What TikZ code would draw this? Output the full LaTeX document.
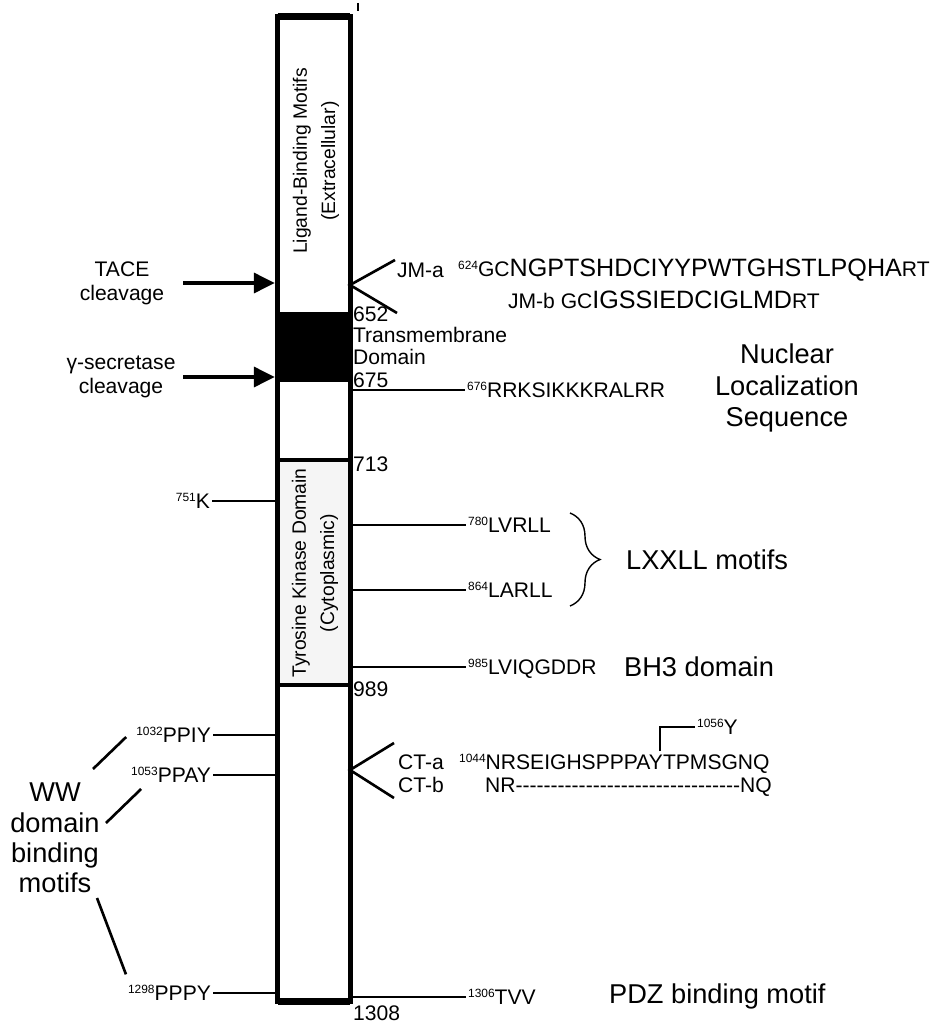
\documentclass[tikz,border=0pt]{standalone}
\usepackage{fontspec}
\setmainfont{Liberation Sans}
\usepackage{tikz}
\usetikzlibrary{arrows.meta,decorations.pathreplacing}

\newcommand{\resno}[1]{\raisebox{4pt}{\fontsize{6.8}{7}\selectfont #1}}
\newcommand{\seqbig}{\fontsize{14.3}{16}\selectfont}
\newcommand{\dashrun}[1]{\foreach \k in {1,...,#1}{-{}}}

\tikzset{
  lbl/.style={font=\fontsize{12}{13.5}\selectfont, inner sep=1pt},
  seq/.style={font=\fontsize{12}{14}\selectfont, inner sep=1pt, text height=8.6pt, text depth=0pt},
  big/.style={font=\fontsize{15.5}{18}\selectfont, inner sep=1pt, align=center},
  lead/.style={line width=1.5pt},
  cut/.style={line width=2.8pt, -{Triangle[length=12pt,width=11pt]}},
  side/.style={line width=3pt},
  rim/.style={line width=4pt}
}

\begin{document}
\begin{tikzpicture}[x=0.02cm,y=-0.02cm]
\useasboundingbox (0,0) rectangle (944,1024);

% the receptor bar
\node[minimum width=1.44cm,minimum height=19.68cm,inner sep=0] (bar) at (314,509){};
\fill[black!4] (278,460) rectangle (350,685);
\fill (278,312) rectangle (350,382);
\draw[side] (bar.north west) rectangle (bar.south east);
\draw[rim] (bar.north west) -- (bar.north east);
\draw[rim] (bar.south west) -- (bar.south east);
\draw[line width=2.8pt] (278,460) -- (350,460);
\draw[line width=2.8pt] (278,685) -- (350,685);
\draw[line width=0.8pt] (358,3) -- (358,11);

\node[rotate=90,align=center,font=\fontsize{11}{16}\selectfont] (ecd) at (316,161){Ligand-Binding Motifs\\(Extracellular)};
\node[rotate=90,align=center,font=\fontsize{11}{16}\selectfont] (tkd) at (315,573){Tyrosine Kinase Domain\\(Cytoplasmic)};

% cleavage sites
\coordinate (cutstart) at (183,0);
\node[lbl,align=center,font=\fontsize{12}{13.5}\selectfont] (tace) at (122,283){TACE\\cleavage};
\node[lbl,align=center,font=\fontsize{12}{13.5}\selectfont] (gsec) at (121,377){γ-secretase\\cleavage};
\draw[cut] (tace.east -| cutstart) -- ([xshift=-1.5pt]tace.east -| bar.west);
\draw[cut] (gsec.east -| cutstart) -- ([xshift=-1.5pt]gsec.east -| bar.west);

% juxtamembrane isoforms
\coordinate (jmv) at (350,285);
\coordinate (jmhi) at (395,260);
\coordinate (jmlo) at (397,313);
\draw[lead] (jmhi) -- (jmv) -- (jmlo);
\node[lbl,anchor=west] (jma) at (395,270){JM-a};
\node[lbl,anchor=west] (jmaseq) at (456,270){\resno{624}GC{\seqbig NGPTSHDCIYYPWTGHSTLPQHA}RT};
\node[lbl,anchor=west] (jmbseq) at (506,300){JM-b GC{\seqbig IGSSIEDCIGLMD}RT};

% residue numbers
\node[lbl,anchor=west] (n652) at (351,314){652};
\node[lbl,anchor=west,align=left,font=\fontsize{12}{12.5}\selectfont] (tmd) at (351,346){Transmembrane\\Domain};
\node[lbl,anchor=west] (n675) at (351,380){675};
\node[lbl,anchor=west] (n713) at (351,464){713};
\node[lbl,anchor=west] (n989) at (351,689){989};
\node[lbl,anchor=west] (n1308) at (351,1013){1308};

% motifs on the right
\node[seq,anchor=west] (nls) at (465,390){\resno{676}RRKSIKKKRALRR};
\node[seq,anchor=west] (lvrll) at (466,525){\resno{780}LVRLL};
\node[seq,anchor=west] (larll) at (466,590){\resno{864}LARLL};
\node[seq,anchor=west] (bh3) at (466,667){\resno{985}LVIQGDDR};
\node[seq,anchor=west] (tvv) at (466,997){\resno{1306}TVV};
\draw[lead] (nls.west -| bar.east) -- (nls.west);
\draw[lead] (lvrll.west -| bar.east) -- (lvrll.west);
\draw[lead] (larll.west -| bar.east) -- (larll.west);
\draw[lead] (bh3.west -| bar.east) -- (bh3.west);
\draw[lead] (tvv.west -| bar.east) -- (tvv.west);

\node[big,font=\fontsize{15.5}{18}\selectfont] (nlslbl) at (787,388){Nuclear\\Localization\\Sequence};
\node[big,anchor=west] (lxxll) at (624,560){LXXLL motifs};
\node[big,anchor=west] (bh3lbl) at (622,667){BH3 domain};
\node[big,anchor=west] (pdz) at (607,996){PDZ binding motif};
\draw[decorate,decoration={brace,amplitude=0.6cm},line width=0.8pt] (570,513) -- (570,606);

% C-terminal isoforms
\coordinate (ctv) at (350,770);
\coordinate (cthi) at (394,743);
\coordinate (ctlo) at (394,798);
\draw[lead] (cthi) -- (ctv) -- (ctlo);
\node[lbl,anchor=west] (cta) at (396,762){CT-a};
\node[lbl,anchor=west] (ctb) at (396,785){CT-b};
\node[seq,anchor=west] (ctaseq) at (457,762){\resno{1044}NRSEIGHSPPPAYTPMSGNQ};
\node[seq,anchor=west] (ctbseq) at (483,785){NR\dashrun{32}NQ};
\node[seq,anchor=west] (y1056) at (695,727){\resno{1056}Y};
\coordinate (ytop) at (660,751);
\draw[lead] (ytop) |- (y1056.west);

% motifs on the left
\node[seq,anchor=east] (k751) at (212,501){\resno{751}K};
\node[seq,anchor=east] (ppiy) at (213,735){\resno{1032}PPIY};
\node[seq,anchor=east] (ppay) at (213,775){\resno{1053}PPAY};
\node[seq,anchor=east] (pppy) at (213,993){\resno{1298}PPPY};
\draw[lead] (k751.east) -- (k751.east -| bar.west);
\draw[lead] (ppiy.east) -- (ppiy.east -| bar.west);
\draw[lead] (ppay.east) -- (ppay.east -| bar.west);
\draw[lead] (pppy.east) -- (pppy.east -| bar.west);

\node[big,font=\fontsize{15.5}{17.3}\selectfont] (ww) at (55,838){WW\\domain\\binding\\motifs};
\coordinate (wwa) at (93,769);
\coordinate (wwb) at (106,823);
\coordinate (wwc) at (97,898);
\draw[lead] (wwa) -- ([shift={(-8,2)}]ppiy.west);
\draw[lead] (wwb) -- ([shift={(12,14)}]ppay.west);
\draw[lead] (wwc) -- ([shift={(0,-9)}]pppy.north west);
\end{tikzpicture}
\end{document}
